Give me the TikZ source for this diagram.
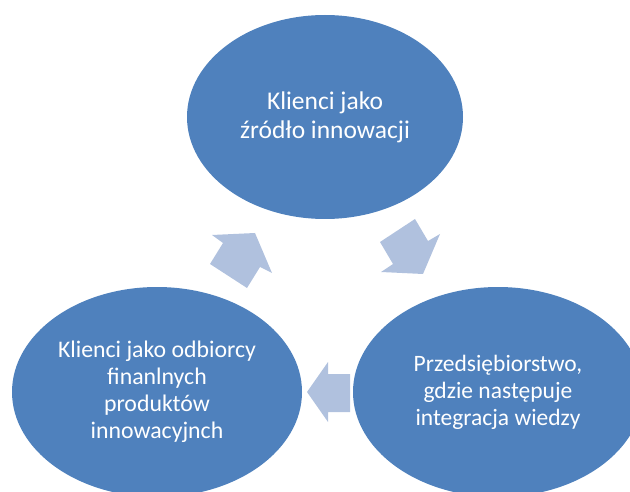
\documentclass[tikz,border=0pt]{standalone}
\usepackage{fontspec}
\setmainfont{Carlito}
\usetikzlibrary{shapes.geometric}
\definecolor{ellblue}{RGB}{79,129,189}
\definecolor{arrblue}{RGB}{176,193,222}
\begin{document}
\begin{tikzpicture}[x=1pt,y=-1pt,
  ell/.style={ellipse, fill=ellblue, draw=none, text=white, align=center, inner sep=0pt},
  blockarrow/.style={fill=arrblue, draw=none}]
\useasboundingbox (0,0) rectangle (630,492);
\clip (0,0) rectangle (630,492);
\node[ell, minimum width=276pt, minimum height=204pt, font=\fontsize{25.5}{29}\selectfont] (top) at (325,117) {Klienci jako\\źródło innowacji};
\node[ell, minimum width=290pt, minimum height=210pt, font=\fontsize{23.8}{27}\selectfont] (left) at (157,392) {Klienci jako odbiorcy\\finanlnych\\produktów\\innowacyjnch};
\node[ell, minimum width=290pt, minimum height=210pt, font=\fontsize{23.5}{27}\selectfont] (right) at (498,392) {Przedsiębiorstwo,\\gdzie następuje\\integracja wiedzy};
% block arrows
\fill[blockarrow] (210,264) -- (223,243) -- (212,235) -- (255,233) -- (272,273) -- (260,267) -- (247,288) -- cycle;
\fill[blockarrow] (380,242) -- (415,219) -- (428,241) -- (440,234) -- (423,274) -- (381,272) -- (393,264) -- cycle;
\fill[blockarrow] (350,374) -- (328,374) -- (328,362) -- (307,392) -- (328,422) -- (328,412) -- (350,412) -- cycle;
\end{tikzpicture}
\end{document}
